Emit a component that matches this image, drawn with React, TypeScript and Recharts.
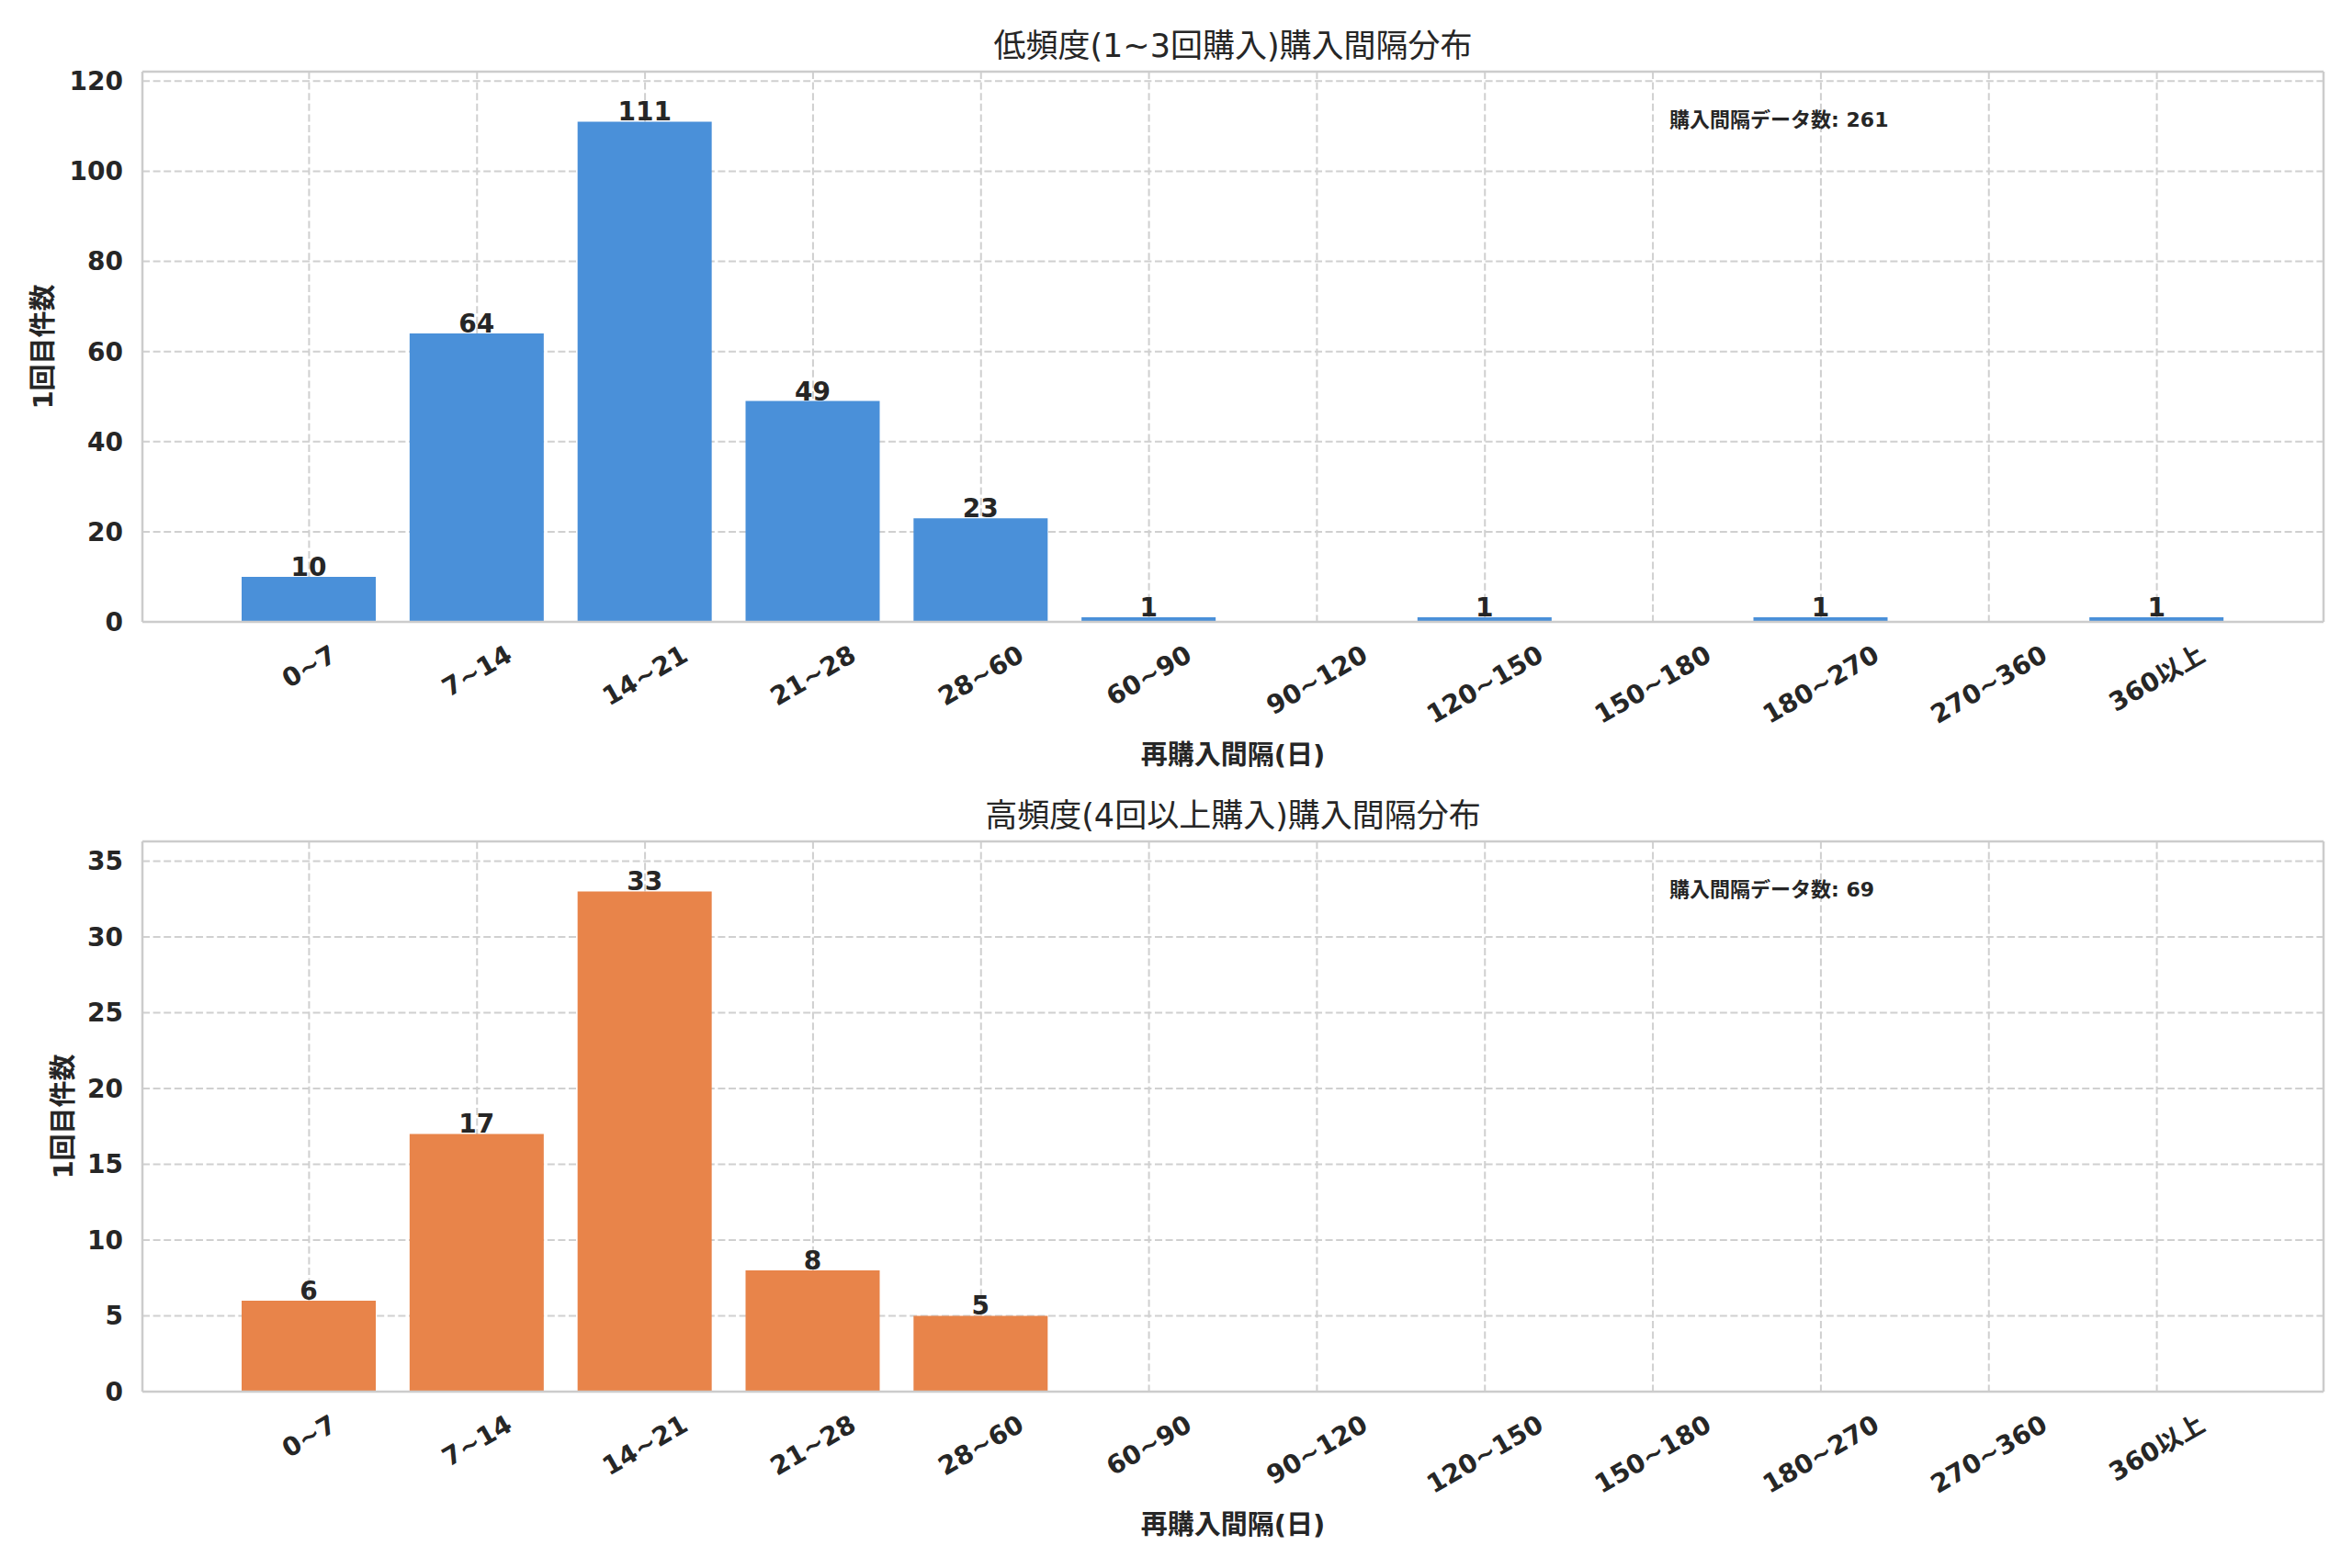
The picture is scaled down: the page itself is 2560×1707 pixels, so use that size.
import React from 'react';
import { BarChart, Bar, XAxis, YAxis, CartesianGrid, LabelList, ReferenceDot } from 'recharts';

const categories = ['0~7', '7~14', '14~21', '21~28', '28~60', '60~90', '90~120', '120~150', '150~180', '180~270', '270~360', '360以上'];
const lowFreqCounts = [10, 64, 111, 49, 23, 1, 0, 1, 0, 1, 0, 1];
const highFreqCounts = [6, 17, 33, 8, 5, 0, 0, 0, 0, 0, 0, 0];
const lowTicks = [0, 20, 40, 60, 80, 100, 120];
const highTicks = [0, 5, 10, 15, 20, 25, 30, 35];
const lowTitle = '低頻度(1~3回購入)購入間隔分布';
const highTitle = '高頻度(4回以上購入)購入間隔分布';
const xLabel = '再購入間隔(日)';
const yLabel = '1回目件数';
const totalLabel = '購入間隔データ数';
const annotationCategory = '150~180';

const FONT = "'DejaVu Sans', 'Noto Sans CJK JP', sans-serif";
const TEXT = '#262626';
const GRID = '#d0d0d0';
const SPINE = '#cccccc';

function estimateWidth(s: string, fs: number) {
  let w = 0;
  for (const ch of s) {
    if (/[0-9]/.test(ch)) w += 0.696;
    else if (ch === '~') w += 0.838;
    else if (/[\x00-\x7f]/.test(ch)) w += 0.6;
    else w += 1.0;
  }
  return w * fs;
}

const XTick = (props: any) => {
  const { x, y, payload } = props;
  const label = String(payload.value);
  const fs = 28;
  const w = estimateWidth(label, fs);
  const h = fs * 1.16;
  const H = w * 0.5 + h * 0.866;
  return (
    <g transform={`translate(${x},${y + 19 + H / 2})`}>
      <text
        textAnchor="middle"
        dominantBaseline="central"
        transform="rotate(-30)"
        fontFamily={FONT}
        fontSize={fs}
        fontWeight="bold"
        fill={TEXT}
      >
        {label}
      </text>
    </g>
  );
};

const ValueLabel = (props: any) => {
  const { x, y, width, value } = props;
  if (!value) return null;
  return (
    <text
      x={x + width / 2}
      y={y - 1}
      textAnchor="middle"
      fontFamily={FONT}
      fontSize={28}
      fontWeight="bold"
      fill={TEXT}
    >
      {value}
    </text>
  );
};

type PanelProps = {
  counts: number[];
  ticks: number[];
  ymax: number;
  color: string;
  title: string;
  top: number;
  height: number;
  marginTop: number;
  bottomAxisHeight: number;
  yLabelX: number;
};

const Panel = ({ counts, ticks, ymax, color, title, top, height, marginTop, bottomAxisHeight, yLabelX }: PanelProps) => {
  const data = categories.map((name, i) => ({ name, value: counts[i] }));
  const total = counts.reduce((a, b) => a + b, 0);
  const annotY = ymax * 0.913;
  return (
    <div style={{ position: 'absolute', left: 0, top, width: 2560, height }}>
      <BarChart width={2560} height={height} data={data} margin={{ top: 0, right: 0, bottom: 0, left: 0 }}>
        <CartesianGrid stroke={GRID} strokeWidth={2} strokeDasharray="8 3.6" />
        <XAxis
          xAxisId="top"
          orientation="top"
          dataKey="name"
          type="category"
          height={marginTop}
          tick={false}
          tickLine={false}
          axisLine={{ stroke: SPINE, strokeWidth: 2.5 }}
          label={(p: any) => {
            const vb = p.viewBox;
            return (
              <text
                x={vb.x + vb.width / 2}
                y={vb.y + vb.height - 16}
                textAnchor="middle"
                fontFamily={FONT}
                fontSize={35}
                fill={TEXT}
              >
                {title}
              </text>
            );
          }}
        />
        <XAxis
          dataKey="name"
          type="category"
          interval={0}
          padding={{ left: 90, right: 90 }}
          height={bottomAxisHeight}
          tickLine={false}
          tickSize={0}
          tickMargin={0}
          axisLine={{ stroke: SPINE, strokeWidth: 2.5 }}
          tick={<XTick />}
          label={(p: any) => {
            const vb = p.viewBox;
            return (
              <text
                x={vb.x + vb.width / 2}
                y={vb.y + 155}
                textAnchor="middle"
                fontFamily={FONT}
                fontSize={29}
                fontWeight="bold"
                fill={TEXT}
              >
                {xLabel}
              </text>
            );
          }}
        />
        <YAxis
          type="number"
          domain={[0, ymax]}
          ticks={ticks}
          width={155}
          tickLine={false}
          tickSize={0}
          tickMargin={21}
          axisLine={{ stroke: SPINE, strokeWidth: 2.5 }}
          tick={{ fontFamily: FONT, fontSize: 28, fontWeight: 'bold', fill: TEXT }}
          label={(p: any) => {
            const vb = p.viewBox;
            return (
              <text
                transform={`translate(${yLabelX},${vb.y + vb.height / 2}) rotate(-90)`}
                textAnchor="middle"
                dominantBaseline="central"
                fontFamily={FONT}
                fontSize={29}
                fontWeight="bold"
                fill={TEXT}
              >
                {yLabel}
              </text>
            );
          }}
        />
        <YAxis
          yAxisId="right"
          orientation="right"
          type="number"
          domain={[0, ymax]}
          width={31}
          tick={false}
          tickLine={false}
          axisLine={{ stroke: SPINE, strokeWidth: 2.5 }}
        />
        <Bar dataKey="value" fill={color} barSize={146} isAnimationActive={false}>
          <LabelList dataKey="value" content={<ValueLabel />} />
        </Bar>
        <ReferenceDot
          x={annotationCategory}
          y={annotY}
          r={0}
          ifOverflow="visible"
          shape={(p: any) => (
            <text
              x={p.cx + 18}
              y={p.cy}
              dominantBaseline="central"
              fontFamily={FONT}
              fontSize={22}
              fontWeight="bold"
              fill={TEXT}
            >
              {`${totalLabel}: ${total}`}
            </text>
          )}
        />
      </BarChart>
    </div>
  );
}

export default function App() {
  return (
    <div style={{ position: 'absolute', left: 0, top: 0, width: 2560, height: 1707, background: '#ffffff' }}>
      <Panel
        counts={lowFreqCounts}
        ticks={lowTicks}
        ymax={122.1}
        color="#4a90d9"
        title={lowTitle}
        top={0}
        height={850}
        marginTop={78}
        bottomAxisHeight={173}
        yLabelX={47}
      />
      <Panel
        counts={highFreqCounts}
        ticks={highTicks}
        ymax={36.3}
        color="#e8844a"
        title={highTitle}
        top={850}
        height={857}
        marginTop={66}
        bottomAxisHeight={192}
        yLabelX={69}
      />
    </div>
  );
}
